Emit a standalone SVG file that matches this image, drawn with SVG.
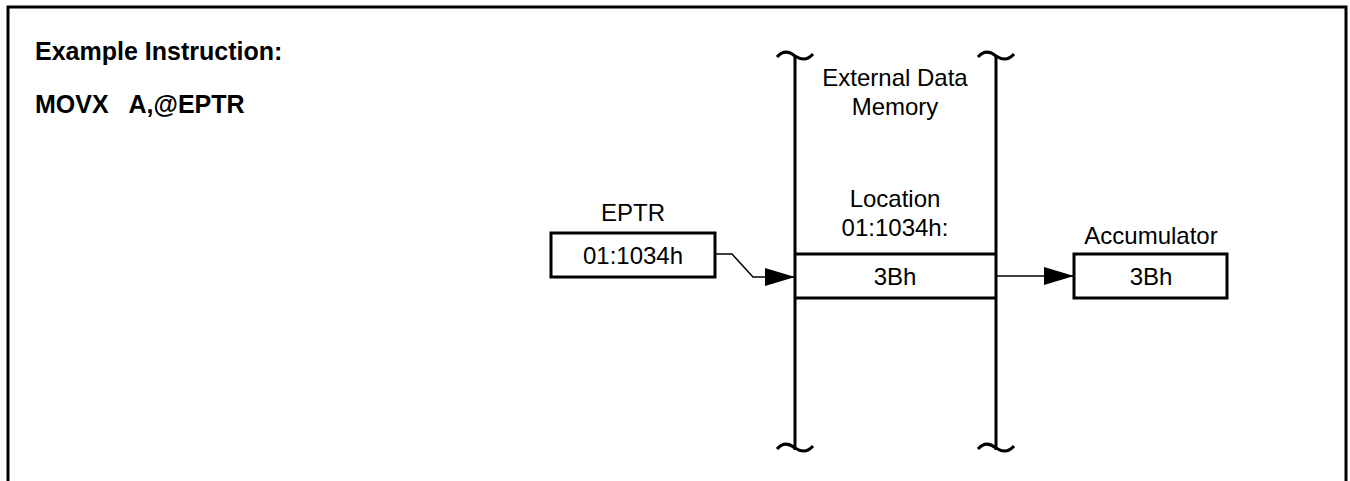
<svg xmlns="http://www.w3.org/2000/svg" width="1350" height="481" viewBox="0 0 1350 481">
<defs>
<style>
.t{font-family:"Liberation Sans",Arial,sans-serif;font-size:24px;fill:#000;text-anchor:middle}
.b{font-family:"Liberation Sans",Arial,sans-serif;font-size:25px;font-weight:bold;fill:#000}
.box{fill:#fff;stroke:#000;stroke-width:3}
.thick{fill:none;stroke:#000;stroke-width:3}
.thin{fill:none;stroke:#000;stroke-width:1.5}
</style>
<marker id="arr" markerUnits="userSpaceOnUse" markerWidth="30" markerHeight="18" refX="30" refY="9" orient="auto">
<path d="M0,0 L30,9 L0,18 Z" fill="#000"/>
</marker>
</defs>
<rect width="1350" height="481" fill="#fff"/>
<path class="thick" d="M8,483 V7 H1346 V483"/>
<g id="title">
<text class="b" x="35" y="60">Example Instruction:</text>
<text class="b" x="35" y="113" xml:space="preserve">MOVX   A,@EPTR</text>
</g>
<g id="memory">
<path class="thick" d="M795,56 V450 M996,56 V450"/>
<path class="thick" d="M777,57 C783,50 789,51 795,56 C801,60 807,61 813,54"/>
<path class="thick" d="M978,57 C984,50 990,51 996,56 C1002,60 1008,61 1014,54"/>
<path class="thick" d="M777,449 C783,442 789,443 795,448 C801,452 807,453 813,446"/>
<path class="thick" d="M978,449 C984,442 990,443 996,448 C1002,452 1008,453 1014,446"/>
<text class="t" x="895" y="86">External Data</text>
<text class="t" x="895" y="115">Memory</text>
</g>
<g id="location">
<text class="t" x="895" y="207">Location</text>
<text class="t" x="895" y="236">01:1034h:</text>
<path class="thick" d="M795,254 H996 M795,298 H996"/>
<text class="t" x="895" y="285">3Bh</text>
</g>
<g id="eptr">
<text class="t" x="633" y="221">EPTR</text>
<rect class="box" x="551" y="233" width="164" height="44"/>
<text class="t" x="633" y="264">01:1034h</text>
</g>
<g id="accumulator">
<text class="t" x="1151" y="244">Accumulator</text>
<rect class="box" x="1074" y="254" width="153" height="44"/>
<text class="t" x="1151" y="285">3Bh</text>
</g>
<g id="connectors">
<path class="thin" d="M715,254 H732 L753,277 H795" marker-end="url(#arr)"/>
<path class="thin" d="M996,276 H1074" marker-end="url(#arr)"/>
</g>
</svg>
